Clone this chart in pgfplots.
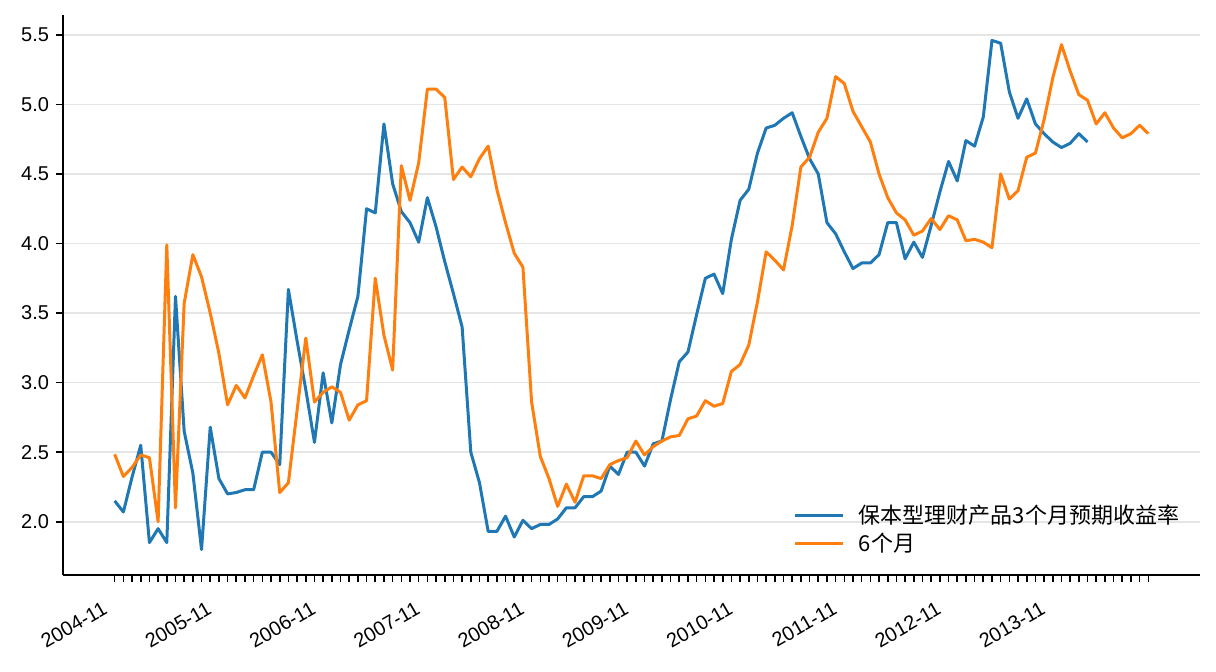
\documentclass[border=0pt]{standalone}
\usepackage{fontspec}
\setmainfont{Liberation Sans}
\newfontfamily\cjk{Noto Sans CJK SC}
\usepackage{pgfplots}
\pgfplotsset{compat=1.18}
\usepackage{pgfplotstable}
\definecolor{tabblue}{HTML}{1F77B4}
\definecolor{taborange}{HTML}{FF7F0E}
\definecolor{gridgray}{HTML}{E5E5E5}

% 保本型理财产品预期收益率, monthly from 2004-11
\pgfplotstableread{
i v
0 2.15
1 2.07
2 2.32
3 2.55
4 1.85
5 1.95
6 1.85
7 3.62
8 2.65
9 2.35
10 1.80
11 2.68
12 2.31
13 2.20
14 2.21
15 2.23
16 2.23
17 2.50
18 2.50
19 2.41
20 3.67
21 3.30
22 2.95
23 2.57
24 3.07
25 2.71
26 3.13
27 3.38
28 3.62
29 4.25
30 4.22
31 4.86
32 4.43
33 4.23
34 4.15
35 4.01
36 4.33
37 4.12
38 3.87
39 3.64
40 3.40
41 2.50
42 2.28
43 1.93
44 1.93
45 2.04
46 1.89
47 2.01
48 1.95
49 1.98
50 1.98
51 2.02
52 2.10
53 2.10
54 2.18
55 2.18
56 2.22
57 2.40
58 2.34
59 2.50
60 2.50
61 2.40
62 2.56
63 2.58
64 2.88
65 3.15
66 3.22
67 3.49
68 3.75
69 3.78
70 3.64
71 4.03
72 4.31
73 4.39
74 4.65
75 4.83
76 4.85
77 4.90
78 4.94
79 4.77
80 4.61
81 4.50
82 4.15
83 4.07
84 3.94
85 3.82
86 3.86
87 3.86
88 3.92
89 4.15
90 4.15
91 3.89
92 4.01
93 3.90
94 4.13
95 4.37
96 4.59
97 4.45
98 4.74
99 4.70
100 4.91
101 5.46
102 5.44
103 5.09
104 4.90
105 5.04
106 4.86
107 4.79
108 4.73
109 4.69
110 4.72
111 4.79
112 4.73
}\threemonth

\pgfplotstableread{
i v
0 2.485
1 2.325
2 2.39
3 2.48
4 2.46
5 2.00
6 3.99
7 2.10
8 3.57
9 3.92
10 3.76
11 3.50
12 3.21
13 2.84
14 2.98
15 2.89
16 3.05
17 3.20
18 2.86
19 2.21
20 2.28
21 2.80
22 3.32
23 2.86
24 2.93
25 2.97
26 2.93
27 2.73
28 2.84
29 2.87
30 3.75
31 3.34
32 3.09
33 4.56
34 4.31
35 4.58
36 5.11
37 5.11
38 5.05
39 4.46
40 4.55
41 4.48
42 4.61
43 4.70
44 4.39
45 4.15
46 3.93
47 3.83
48 2.86
49 2.47
50 2.31
51 2.11
52 2.27
53 2.14
54 2.33
55 2.33
56 2.31
57 2.41
58 2.44
59 2.46
60 2.58
61 2.48
62 2.54
63 2.58
64 2.61
65 2.62
66 2.74
67 2.76
68 2.87
69 2.83
70 2.85
71 3.08
72 3.13
73 3.27
74 3.58
75 3.94
76 3.88
77 3.81
78 4.13
79 4.55
80 4.62
81 4.80
82 4.90
83 5.20
84 5.15
85 4.95
86 4.84
87 4.73
88 4.50
89 4.33
90 4.22
91 4.17
92 4.06
93 4.09
94 4.18
95 4.10
96 4.20
97 4.17
98 4.02
99 4.03
100 4.01
101 3.97
102 4.50
103 4.32
104 4.38
105 4.62
106 4.65
107 4.89
108 5.19
109 5.43
110 5.24
111 5.07
112 5.03
113 4.86
114 4.94
115 4.83
116 4.76
117 4.79
118 4.85
119 4.79
}\sixmonth

\begin{document}
\begin{tikzpicture}
\begin{axis}[
    scale only axis,
    width=568.5pt,
    height=280pt,
    xmin=-5.95, xmax=124.95,
    ymin=1.617, ymax=5.643,
    axis x line*=bottom,
    axis y line*=left,
    axis line style={-, line width=0.8pt, black},
    tick align=outside,
    major tick length=3.5pt,
    minor tick length=3.5pt,
    tick style={line width=0.8pt, black},
    xtick={0,12,...,108},
    xticklabels={2004-11,2005-11,2006-11,2007-11,2008-11,2009-11,2010-11,2011-11,2012-11,2013-11},
    minor xtick={0,...,119},
    ytick={2,2.5,3,3.5,4,4.5,5,5.5},
    /pgf/number format/.cd, fixed, fixed zerofill, precision=1, assume math mode=true,
    /pgfplots/.cd,
    ymajorgrids,
    grid style={gridgray, line width=0.8pt},
    tick label style={font=\fontsize{10pt}{12pt}\selectfont},
    xticklabel style={xshift=-6.5pt, yshift=-9pt, rotate=30, anchor=north east, inner sep=0pt},
    legend style={at={(1,0)}, anchor=south east, xshift=-10.5pt, yshift=11pt,
        draw=none, fill=none, inner sep=0pt, outer sep=0pt,
        row sep=4.5pt, column sep=7pt,
        font=\cjk\fontsize{11pt}{13pt}\selectfont,
        nodes={inner sep=0pt, text height=9pt, text depth=0.5pt, anchor=west}},
    legend cell align=left,
    legend image code/.code={\draw[#1] (0pt,0pt) -- (24pt,0pt);},
]
\addplot[tabblue, line width=1.5pt, line join=round, no markers] table[x=i, y=v] {\threemonth};
\addlegendentry{保本型理财产品3个月预期收益率}
\addplot[taborange, line width=1.5pt, line join=round, no markers] table[x=i, y=v] {\sixmonth};
\addlegendentry{6个月}
\end{axis}
\pgfresetboundingbox
\path[use as bounding box] (-31.5pt,-48.5pt) rectangle (576.5pt,287.5pt);
\end{tikzpicture}
\end{document}
